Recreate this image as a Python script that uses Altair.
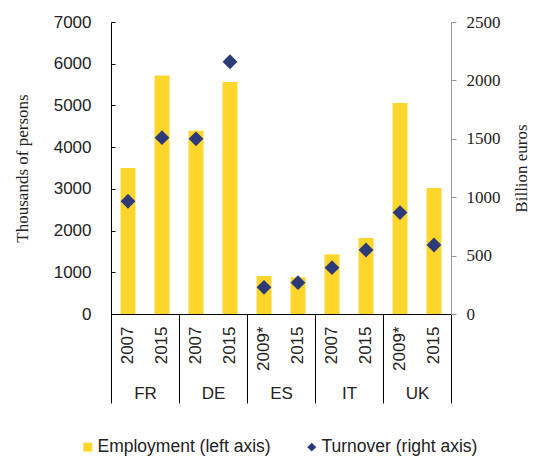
import altair as alt
import pandas as pd

countries = ["FR", "FR", "DE", "DE", "ES", "ES", "IT", "IT", "UK", "UK"]
years = ["2007", "2015", "2007", "2015", "2009*", "2015", "2007", "2015", "2009*", "2015"]
employment = [3500, 5720, 4390, 5560, 910, 880, 1430, 1820, 5060, 3020]
turnover = [965, 1510, 1500, 2160, 228, 268, 397, 548, 868, 591]
country_order = ["FR", "DE", "ES", "IT", "UK"]
left_ticks = [0, 1000, 2000, 3000, 4000, 5000, 6000, 7000]
right_ticks = [0, 500, 1000, 1500, 2000, 2500]
series_names = ["Employment (left axis)", "Turnover (right axis)"]

yellow = "#FDD52B"
navy = "#2D3A78"
sans = "Liberation Sans"
serif = "Liberation Serif"
txt = "#222222"

keys = [f"{c}|{y}" for c, y in zip(countries, years)]
df = pd.DataFrame({
    "country": countries,
    "year": years,
    "key": keys,
    "employment": employment,
    "turnover": turnover,
    "emp_series": series_names[0],
    "turn_series": series_names[1],
})

legend_opts = dict(title=None, orient="none", legendX=-32, legendY=416,
                   direction="horizontal",
                   labelFont=sans, labelFontSize=17.5, labelColor=txt, labelLimit=0,
                   labelOffset=1, symbolSize=80, columnPadding=32, symbolStrokeWidth=0)

x_year = alt.X("key:N", sort=keys,
               scale=alt.Scale(type="band", paddingInner=0.56, paddingOuter=0.28),
               axis=alt.Axis(orient="bottom", title=None,
                             labelExpr="split(datum.label, '|')[1]",
                             labelAngle=270, labelFont=sans, labelFontSize=17,
                             labelColor=txt, labelPadding=12, ticks=False,
                             domainColor="black", domainWidth=1))

color_scale = alt.Scale(domain=series_names, range=[yellow, navy])

bars = alt.Chart(df).mark_bar().encode(
    x=x_year,
    y=alt.Y("employment:Q", scale=alt.Scale(domain=[0, 7000], nice=False),
            axis=alt.Axis(orient="left", values=left_ticks, format="d",
                          title="Thousands of persons",
                          titleFont=serif, titleFontSize=17, titleFontWeight="normal",
                          titleColor=txt, titlePadding=22,
                          labelFont=sans, labelFontSize=17, labelColor=txt,
                          labelPadding=20, ticks=False, domainColor="black",
                          grid=True, gridColor="black", gridDash=[4, 1000], gridWidth=1)),
    color=alt.Color("emp_series:N", scale=color_scale, legend=alt.Legend(**legend_opts)),
)

points = alt.Chart(df).mark_point(filled=True, size=220, opacity=1).encode(
    x=x_year,
    y=alt.Y("turnover:Q", scale=alt.Scale(domain=[0, 2500], nice=False),
            axis=alt.Axis(orient="right", values=right_ticks, format="d",
                          title="Billion euros",
                          titleFont=serif, titleFontSize=17, titleFontWeight="normal",
                          titleColor=txt, titleAngle=270, titlePadding=30,
                          labelFont=serif, labelFontSize=17, labelColor=txt,
                          labelPadding=10, tickSize=5, tickColor="#999999",
                          domainColor="#999999", grid=False)),
    color=alt.Color("turn_series:N", scale=color_scale, legend=alt.Legend(**legend_opts)),
    shape=alt.Shape("turn_series:N",
                    scale=alt.Scale(domain=series_names, range=["square", "diamond"]),
                    legend=alt.Legend(**legend_opts)),
)

inner = alt.layer(bars, points).resolve_scale(y="independent")

country_layer = alt.Chart(df).mark_point(opacity=0).encode(
    x=alt.X("country:N", sort=country_order,
            scale=alt.Scale(type="band", paddingInner=0, paddingOuter=0),
            axis=alt.Axis(orient="bottom", title=None, tickBand="extent", tickSize=89,
                          tickColor="black", tickWidth=1, domain=False,
                          labelFont=sans, labelFontSize=17, labelColor=txt,
                          labelPadding=-18, labelAngle=0)),
)

chart = alt.layer(inner, country_layer).resolve_scale(x="independent").properties(
    width=340, height=292,
    padding={"left": 5, "top": 5, "right": 0, "bottom": 0},
).configure_view(stroke=None)

chart.save("out.html", embed_options={"renderer": "svg", "actions": False})
